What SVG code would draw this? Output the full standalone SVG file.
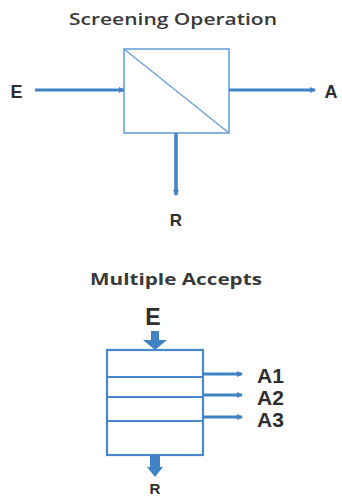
<svg xmlns="http://www.w3.org/2000/svg" width="342" height="498" viewBox="0 0 342 498">
  <style>
    .title { font-family: "Open Sans", "Liberation Sans", sans-serif; fill: #3a3a3a; }
    .label { font-family: "Liberation Sans", Arial, sans-serif; font-weight: bold; fill: #2e2e2e; }
    .box { fill: #ffffff; stroke: #6aa2d8; stroke-width: 1.6; }
    .box2 { fill: #ffffff; stroke: #4a88cc; stroke-width: 2.2; }
    .flow { stroke: #3f83c6; fill: none; }
  </style>
  <defs>
    <marker id="head" markerWidth="6" markerHeight="6" refX="5" refY="3" orient="auto" markerUnits="userSpaceOnUse">
      <path d="M0,0 L6,3 L0,6 Z" fill="#3f83c6"/>
    </marker>
  </defs>
  <rect width="342" height="498" fill="#ffffff"/>

  <!-- Screening operation -->
  <text class="title" x="173" y="25" font-size="16" font-weight="600" text-anchor="middle" textLength="208" lengthAdjust="spacingAndGlyphs">Screening Operation</text>
  <g id="screen">
    <rect class="box" x="124" y="49" width="105" height="84"/>
    <line x1="124" y1="49" x2="229" y2="133" stroke="#6aa2d8" stroke-width="1.4"/>
  </g>
  <g id="label-E1"><text class="label" x="16.5" y="97.5" font-size="18" text-anchor="middle">E</text></g>
  <g id="label-A1"><text class="label" x="331" y="97.5" font-size="18" text-anchor="middle">A</text></g>
  <g id="label-R1"><text class="label" x="176" y="226" font-size="17" text-anchor="middle">R</text></g>

  <!-- Multiple accepts -->
  <text class="title" x="176" y="285" font-size="15.5" font-weight="bold" text-anchor="middle" textLength="172" lengthAdjust="spacingAndGlyphs">Multiple Accepts</text>
  <g id="multi">
    <rect class="box2" x="107" y="350" width="96" height="105"/>
    <line x1="107" y1="377" x2="203" y2="377" stroke="#4a88cc" stroke-width="2.2"/>
    <line x1="107" y1="397" x2="203" y2="397" stroke="#4a88cc" stroke-width="2.2"/>
    <line x1="107" y1="421" x2="203" y2="421" stroke="#4a88cc" stroke-width="2.2"/>
  </g>
  <g id="label-E2"><text class="label" x="153" y="325" font-size="23" text-anchor="middle">E</text></g>
  <g id="label-A1b"><text class="label" x="257" y="383" font-size="21">A1</text></g>
  <g id="label-A2b"><text class="label" x="257" y="405" font-size="21">A2</text></g>
  <g id="label-A3b"><text class="label" x="257" y="427" font-size="21">A3</text></g>
  <g id="label-R2"><text class="label" x="155" y="494" font-size="15" text-anchor="middle">R</text></g>

  <g id="connectors">
    <line class="flow" x1="35" y1="90" x2="124" y2="90" stroke-width="3" marker-end="url(#head)"/>
    <line class="flow" x1="229" y1="90" x2="315" y2="90" stroke-width="3" marker-end="url(#head)"/>
    <line class="flow" x1="176" y1="133" x2="176" y2="195" stroke-width="3.5" marker-end="url(#head)"/>
    <!-- feed into the stacked screens -->
    <path d="M151,331 H159 V340 H167 L155,350 L143,340 H151 Z" fill="#3f83c6"/>
    <!-- undersize out of the bottom -->
    <path d="M150,455 H160 V467 H163 L155,477 L147,467 H150 Z" fill="#3f83c6"/>
    <line class="flow" x1="203" y1="374" x2="242" y2="374" stroke-width="3" marker-end="url(#head)"/>
    <line class="flow" x1="203" y1="395" x2="242" y2="395" stroke-width="3" marker-end="url(#head)"/>
    <line class="flow" x1="203" y1="417" x2="242" y2="417" stroke-width="3" marker-end="url(#head)"/>
  </g>
</svg>
